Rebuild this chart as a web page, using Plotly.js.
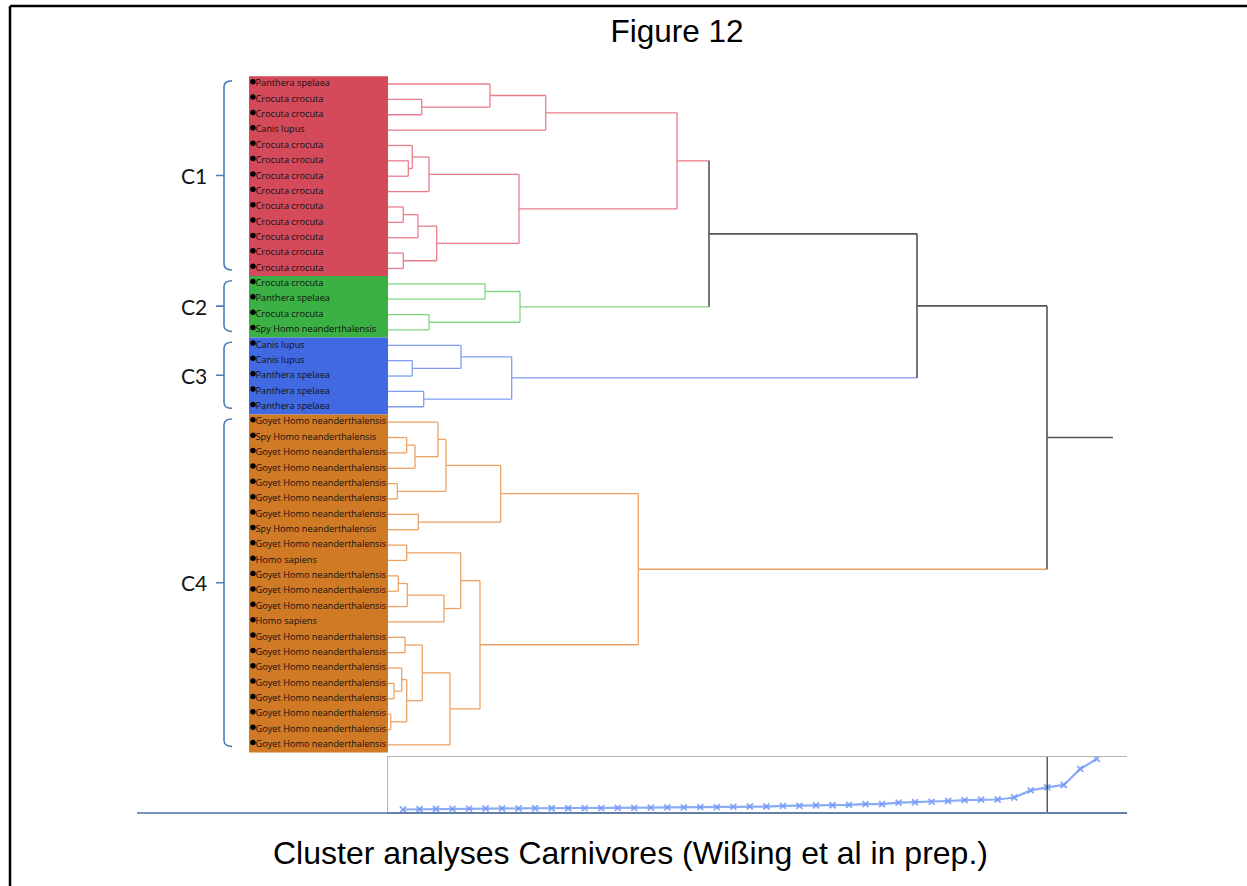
<!DOCTYPE html>
<html>
<head>
<meta charset="utf-8">
<script src="https://cdn.plot.ly/plotly-3.0.1.min.js"></script>
<style>
  html, body { margin: 0; padding: 0; background: #ffffff; }
  #chart { width: 1247px; height: 886px; }
</style>
</head>
<body>
<div id="chart"></div>
<script>
// Leaf labels, top to bottom
const leafLabels = [
  'Panthera spelaea', 'Crocuta crocuta', 'Crocuta crocuta', 'Canis lupus',
  'Crocuta crocuta', 'Crocuta crocuta', 'Crocuta crocuta', 'Crocuta crocuta',
  'Crocuta crocuta', 'Crocuta crocuta', 'Crocuta crocuta', 'Crocuta crocuta', 'Crocuta crocuta',
  'Crocuta crocuta', 'Panthera spelaea', 'Crocuta crocuta', 'Spy Homo neanderthalensis',
  'Canis lupus', 'Canis lupus', 'Panthera spelaea', 'Panthera spelaea', 'Panthera spelaea',
  'Goyet Homo neanderthalensis', 'Spy Homo neanderthalensis', 'Goyet Homo neanderthalensis',
  'Goyet Homo neanderthalensis', 'Goyet Homo neanderthalensis', 'Goyet Homo neanderthalensis',
  'Goyet Homo neanderthalensis', 'Spy Homo neanderthalensis', 'Goyet Homo neanderthalensis',
  'Homo sapiens', 'Goyet Homo neanderthalensis', 'Goyet Homo neanderthalensis',
  'Goyet Homo neanderthalensis', 'Homo sapiens', 'Goyet Homo neanderthalensis',
  'Goyet Homo neanderthalensis', 'Goyet Homo neanderthalensis', 'Goyet Homo neanderthalensis',
  'Goyet Homo neanderthalensis', 'Goyet Homo neanderthalensis', 'Goyet Homo neanderthalensis',
  'Goyet Homo neanderthalensis'
];

// Clusters (consecutive runs of leaves)
const clusterNames = ['C1', 'C2', 'C3', 'C4'];
const clusterSizes = [13, 4, 5, 22];
const clusterFill = ['#d54a5a', '#3bb044', '#4169e1', '#d07a25'];
const clusterLine = ['#ea7d8c', '#82d585', '#7f9ef2', '#eda264'];
const nClusters = 4;

// Agglomeration steps: node ids 0..43 are leaves, step k creates node 44 + k
const mergeLeft   = [1, 0, 45, 5, 4, 48, 8, 50, 11, 51, 49, 46,
                     13, 15, 56,
                     18, 17, 20, 60,
                     23, 63, 22, 26, 65, 28, 67, 30, 32, 71, 72, 70, 36, 39, 38, 41, 77, 75, 80, 74, 69,
                     55, 84, 85];
const mergeRight  = [2, 44, 3, 6, 47, 7, 9, 10, 12, 52, 53, 54,
                     14, 16, 57,
                     19, 59, 21, 61,
                     24, 25, 64, 27, 66, 29, 68, 31, 33, 34, 35, 73, 37, 40, 76, 42, 78, 79, 43, 81, 82,
                     58, 62, 83];
const mergeHeight = [0.337, 1.02, 1.577, 0.203, 0.243, 0.41, 0.153, 0.30, 0.153, 0.487, 1.31, 2.89,
                     0.97, 0.41, 1.32,
                     0.243, 0.73, 0.357, 1.237,
                     0.187, 0.27, 0.50, 0.093, 0.58, 0.303, 1.127, 0.187, 0.103, 0.193, 0.56, 0.727,
                     0.17, 0.06, 0.137, 0.027, 0.187, 0.343, 0.62, 0.92, 2.503,
                     3.21, 5.29, 6.59];

// ---- tree geometry -------------------------------------------------------
const nLeaves = leafLabels.length;
const leafCluster = [];
clusterSizes.forEach((s, c) => { for (let i = 0; i < s; i++) leafCluster.push(c); });

const nodeY = [], nodeH = [], nodeC = [];
for (let i = 0; i < nLeaves; i++) { nodeY.push(i); nodeH.push(0); nodeC.push(leafCluster[i]); }
mergeLeft.forEach((l, k) => {
  const r = mergeRight[k];
  nodeY.push((nodeY[l] + nodeY[r]) / 2);
  nodeH.push(mergeHeight[k]);
  nodeC.push(nodeC[l] === nodeC[r] ? nodeC[l] : -1);
});

const MIXED = '#555555';
const colorOf = c => (c < 0 ? MIXED : clusterLine[c]);
const segs = {};
function addSeg(color, x0, y0, x1, y1) {
  if (!segs[color]) segs[color] = { x: [], y: [] };
  segs[color].x.push(x0, x1, null);
  segs[color].y.push(y0, y1, null);
}
mergeLeft.forEach((l, k) => {
  const r = mergeRight[k];
  const node = nLeaves + k;
  const h = mergeHeight[k];
  addSeg(colorOf(nodeC[l]), nodeH[l], nodeY[l], h, nodeY[l]);
  addSeg(colorOf(nodeC[r]), nodeH[r], nodeY[r], h, nodeY[r]);
  addSeg(colorOf(nodeC[node]), h, nodeY[l], h, nodeY[r]);
});
const root = nodeY.length - 1;
addSeg(MIXED, nodeH[root], nodeY[root], nodeH[root] + 0.66, nodeY[root]);

const traces = Object.keys(segs).map(color => ({
  type: 'scatter', mode: 'lines', x: segs[color].x, y: segs[color].y,
  line: { color: color, width: color === MIXED ? 1.6 : 1.3 },
  hoverinfo: 'skip', xaxis: 'x', yaxis: 'y'
}));

// leaf bullets and names
const leafIdx = leafLabels.map((_, i) => i);
traces.push({
  type: 'scatter', mode: 'markers', x: leafIdx.map(() => -1.35), y: leafIdx.map(i => i - 0.15),
  marker: { color: '#000000', size: 5.5 }, hoverinfo: 'skip', xaxis: 'x', yaxis: 'y'
});
traces.push({
  type: 'scatter', mode: 'text', x: leafIdx.map(() => -1.325), y: leafIdx,
  text: leafLabels, textposition: 'middle right',
  textfont: { family: 'Open Sans, sans-serif', size: 9.2, color: '#111111' },
  hoverinfo: 'skip', xaxis: 'x', yaxis: 'y'
});

// fusion-level profile: all merge heights in ascending order
const fusionLevels = mergeHeight.slice().sort((a, b) => a - b);
const stepIdx = fusionLevels.map((_, i) => i);
traces.push({
  type: 'scatter', mode: 'lines+markers', x: stepIdx, y: fusionLevels,
  line: { color: 'rgba(110,150,245,0.8)', width: 2.2 },
  marker: { symbol: 'x-thin-open', size: 6, line: { color: '#2652e4', width: 1.9 } },
  hoverinfo: 'skip', xaxis: 'x2', yaxis: 'y2'
});

// ---- decorations ---------------------------------------------------------
const shapes = [];
const annotations = [];
let start = 0;
clusterSizes.forEach((s, c) => {
  const end = start + s - 1;
  shapes.push({
    type: 'rect', xref: 'x', yref: 'y', x0: -1.39, x1: 0, y0: start - 0.5, y1: end + 0.5,
    fillcolor: clusterFill[c], line: { width: 0 }, layer: 'below'
  });
  const top = start - 0.2, bot = end + 0.1, mid = (top + bot) / 2;
  const xv = -1.64, xh = -1.56, xt = -1.72, r = 0.4;
  shapes.push({
    type: 'path', xref: 'x', yref: 'y',
    path: `M ${xh},${top} Q ${xv},${top} ${xv},${top + r} L ${xv},${bot - r} Q ${xv},${bot} ${xh},${bot} ` +
          `M ${xv},${mid} L ${xt},${mid}`,
    line: { color: '#4a7ebb', width: 1.6 }
  });
  annotations.push({
    xref: 'x', yref: 'y', x: -1.94, y: mid, text: clusterNames[c], showarrow: false,
    xanchor: 'center', yanchor: 'middle',
    font: { family: 'Lato, sans-serif', size: 21, color: '#151515' }
  });
  start = end + 1;
});

// cut line on the fusion-level panel
shapes.push({
  type: 'line', xref: 'x2', yref: 'y2 domain', x0: mergeHeight.length - nClusters, x1: mergeHeight.length - nClusters,
  y0: 0, y1: 1, line: { color: '#333333', width: 1.2 }
});
// rule under the panel
shapes.push({
  type: 'line', xref: 'paper', yref: 'paper', x0: 137 / 1247, x1: 1127 / 1247,
  y0: 1 - 813 / 886, y1: 1 - 813 / 886, line: { color: '#4a6fa5', width: 1.5 }
});
// page frame
shapes.push({ type: 'line', xref: 'paper', yref: 'paper', x0: 10 / 1247, x1: 1, y0: 1 - 6 / 886, y1: 1 - 6 / 886,
  line: { color: '#000000', width: 2.5 } });
shapes.push({ type: 'line', xref: 'paper', yref: 'paper', x0: 10 / 1247, x1: 10 / 1247, y0: 0, y1: 1 - 6 / 886,
  line: { color: '#000000', width: 2.5 } });

annotations.push({
  xref: 'paper', yref: 'paper', x: 630 / 1247, y: 1 - 853 / 886,
  text: 'Cluster analyses Carnivores (Wißing et al in prep.)', showarrow: false,
  xanchor: 'center', yanchor: 'middle',
  font: { family: 'Liberation Sans, Arial, sans-serif', size: 32, color: '#000000' }
});

const hidden = { visible: false, showgrid: false, zeroline: false, fixedrange: true };

const layout = {
  width: 1247, height: 886,
  margin: { l: 0, r: 0, t: 0, b: 0 },
  paper_bgcolor: '#ffffff', plot_bgcolor: 'rgba(0,0,0,0)',
  showlegend: false,
  title: {
    text: 'Figure 12', x: 677 / 1247, xanchor: 'center', y: 1 - 31 / 886, yanchor: 'middle',
    font: { family: 'Liberation Sans, Arial, sans-serif', size: 31.5, color: '#000000' }
  },
  xaxis: Object.assign({}, hidden, { domain: [0, 1], range: [-3.88, 8.59] }),
  yaxis: Object.assign({}, hidden, { domain: [0, 1], range: [52.18, -5.465] }),
  xaxis2: {
    domain: [388 / 1247, 1127 / 1247], range: [-0.908, 43.83], anchor: 'y2',
    showgrid: false, zeroline: false, showticklabels: false, ticks: '',
    showline: true, mirror: true, linecolor: '#b4b4b4', linewidth: 1.5
  },
  yaxis2: {
    domain: [1 - 812 / 886, 1 - 757 / 886], range: [-0.3, 6.84], anchor: 'x2',
    showgrid: false, zeroline: false, showticklabels: false, ticks: '',
    showline: true, linecolor: '#b4b4b4', linewidth: 1.5
  },
  shapes: shapes,
  annotations: annotations
};

Plotly.newPlot('chart', traces, layout, { displayModeBar: false, staticPlot: true });
</script>
</body>
</html>
